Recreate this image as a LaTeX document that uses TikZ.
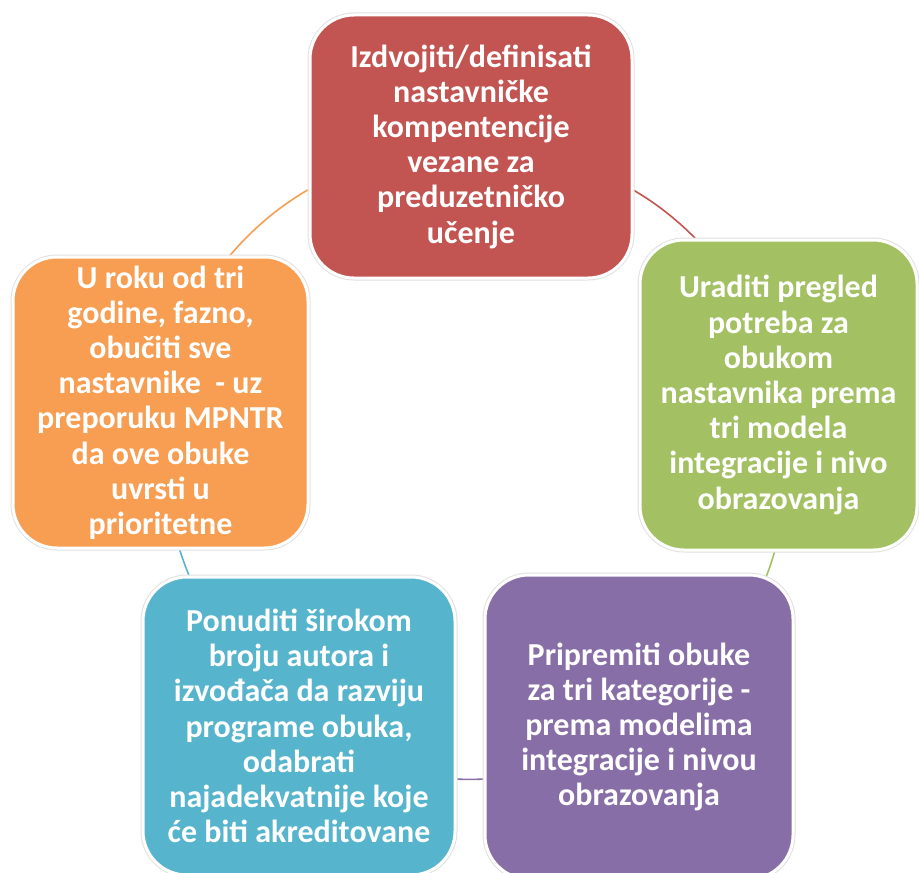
\documentclass[tikz,border=0pt]{standalone}
\usepackage{fontspec}
\setmainfont{Carlito}
\usetikzlibrary{backgrounds}
\definecolor{boxred}{RGB}{194,85,82}
\definecolor{boxgreen}{RGB}{163,193,99}
\definecolor{boxpurple}{RGB}{136,110,167}
\definecolor{boxcyan}{RGB}{86,180,204}
\definecolor{boxorange}{RGB}{247,158,82}
\tikzstyle{cyclebox} = [rectangle, rounded corners=22pt, draw=white, line width=1.5pt,
  preaction={draw=black!12, line width=2.5pt}, text=white, align=center, inner sep=0pt,
  font=\bfseries\fontsize{16}{17.6}\selectfont]

\begin{document}
\begin{tikzpicture}[x=0.5pt, y=-0.5pt, link/.style={line width=0.8pt}]
	\useasboundingbox (0,0) rectangle (919,872);
	\node[cyclebox, fill=boxred, minimum width=161pt, minimum height=131.5pt] (plan) at (471,146.5)
		{Izdvojiti/definisati\\nastavničke\\kompentencije\\vezane za\\preduzetničko\\učenje};
	\node[cyclebox, fill=boxgreen, minimum width=138.5pt, minimum height=155pt] (survey) at (778.5,395)
		{Uraditi pregled\\potreba za\\obukom\\nastavnika prema\\tri modela\\integracije i nivo\\obrazovanja};
	\node[cyclebox, fill=boxpurple, minimum width=154pt, minimum height=152pt] (prepare) at (639,727)
		{Pripremiti obuke\\za tri kategorije -\\prema modelima\\integracije i nivou\\obrazovanja};
	\node[cyclebox, fill=boxcyan, minimum width=156pt, minimum height=149pt] (offer) at (299,726)
		{Ponuditi širokom\\broju autora i\\izvođača da razviju\\programe obuka,\\odabrati\\najadekvatnije koje\\će biti akreditovane};
	\node[cyclebox, fill=boxorange, minimum width=147.5pt, minimum height=145.5pt] (train) at (160.5,402.5)
		{U roku od tri\\godine, fazno,\\obučiti sve\\nastavnike\ \ - uz\\preporuku MPNTR\\da ove obuke\\uvrsti u\\prioritetne};
	% veze po krugu
	\begin{scope}[on background layer]
		\draw[link, draw=boxred] (plan.center) to[bend left=38] (survey.center);
		\draw[link, draw=boxgreen] (survey.center) to[bend left=34] (prepare.center);
		\draw[link, draw=boxpurple] (prepare.center) to[bend left=32] (offer.center);
		\draw[link, draw=boxcyan] (offer.center) to[bend left=24] (train.center);
		\draw[link, draw=boxorange] (train.center) to[bend left=39] (plan.center);
	\end{scope}
\end{tikzpicture}
\end{document}
